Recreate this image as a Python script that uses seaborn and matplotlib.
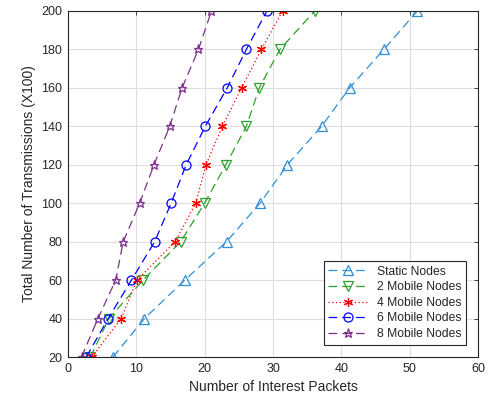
import matplotlib
matplotlib.use("Agg")
import matplotlib.pyplot as plt
import seaborn as sns
import pandas as pd
import numpy as np

sns.set_theme(style="whitegrid")
plt.rcParams["font.family"] = ["Liberation Sans", "DejaVu Sans"]

# Данные
transmissions = [20, 40, 60, 80, 100, 120, 140, 160, 180, 200]
static_nodes = [6.6, 11.2, 17.1, 23.2, 28.1, 32.1, 37.1, 41.2, 46.2, 51.1]
mobile_2 = [3.3, 6.0, 11.0, 16.5, 20.0, 23.1, 26.1, 28.0, 31.0, 36.1]
mobile_4 = [3.5, 7.8, 10.1, 15.7, 18.7, 20.2, 22.6, 25.4, 28.3, 31.4]
mobile_6 = [2.7, 5.9, 9.3, 12.7, 15.1, 17.3, 20.1, 23.3, 26.1, 29.1]
mobile_8 = [2.0, 4.4, 7.0, 8.1, 10.5, 12.6, 14.9, 16.7, 19.1, 21.0]

series = [
    ("Static Nodes", static_nodes, "#2f8fd6", "^", (0, (7, 4)), "none"),
    ("2 Mobile Nodes", mobile_2, "#2ca02c", "v", (0, (7, 4)), "none"),
    ("4 Mobile Nodes", mobile_4, "red", (6, 2, 0), (0, (1, 2)), "red"),
    ("6 Mobile Nodes", mobile_6, "blue", "o", (0, (7, 4)), "none"),
    ("8 Mobile Nodes", mobile_8, "#7E2F8E", "*", (0, (7, 4)), "none"),
]

fig = plt.figure(figsize=(4.88, 4.05), dpi=100)
ax = fig.add_axes([0.139, 0.1185, 0.841, 0.8545])

for name, vals, col, mk, ls, fc in series:
    sns.lineplot(x=vals, y=transmissions, sort=False, ax=ax, color=col,
                 marker=mk, markersize=6.5, markerfacecolor=fc,
                 markeredgecolor=col, markeredgewidth=0.9,
                 linewidth=0.9, linestyle=ls, label=name)

ax.set_xlim(0, 60)
ax.set_ylim(20, 200)
ax.set_xticks(np.arange(0, 61, 10))
ax.set_yticks(np.arange(20, 201, 20))
ax.set_facecolor("white")
ax.grid(True, color="#dedede", linewidth=0.8)
for s in ax.spines.values():
    s.set_color("#262626")
    s.set_linewidth(0.8)
ax.tick_params(axis="both", labelsize=9, colors="#262626", direction="in",
               length=3, width=0.6, top=True, right=True, pad=4)
ax.tick_params(labeltop=False, labelright=False)

ax.set_xlabel("Number of Interest Packets", fontsize=10, color="#262626", labelpad=4)
ax.set_ylabel("Total Number of Transmissions (X100)", fontsize=10, color="#262626", labelpad=4)

leg = ax.legend(loc="lower right", fontsize=8.7, frameon=True, fancybox=False,
                edgecolor="#262626", framealpha=1, handlelength=3.2,
                borderaxespad=1.0, labelspacing=0.3, borderpad=0.4)
leg.get_frame().set_linewidth(0.8)

fig.savefig("out.png", dpi=100)
